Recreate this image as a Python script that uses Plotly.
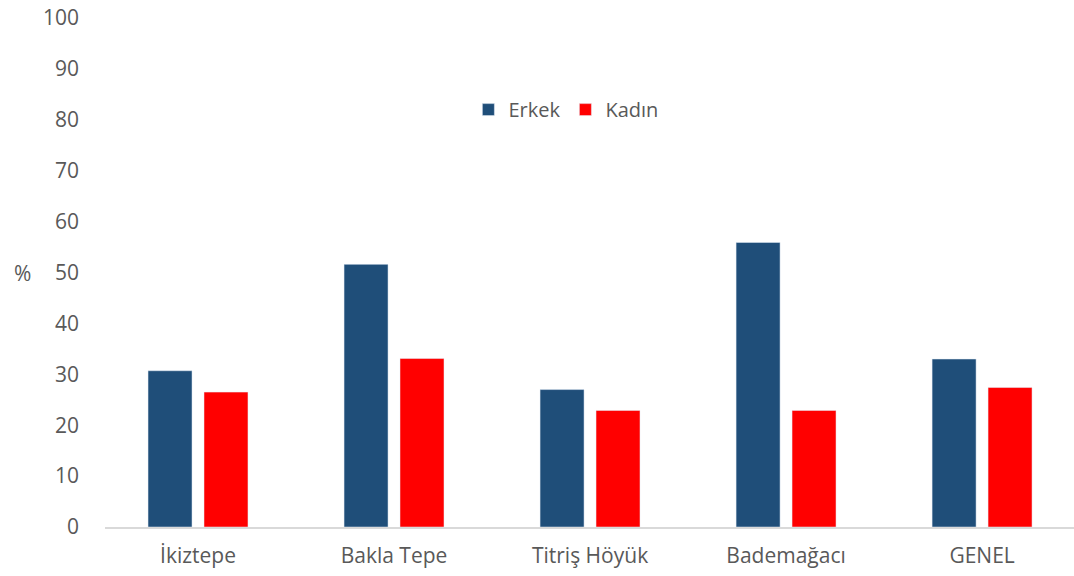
import plotly.graph_objects as go

sites = ["İkiztepe", "Bakla Tepe", "Titriş Höyük", "Bademağacı", "GENEL"]
erkek = [30.7, 51.6, 27.0, 55.9, 33.0]
kadin = [26.5, 33.1, 22.9, 22.9, 27.4]
y_ticks = [0, 10, 20, 30, 40, 50, 60, 70, 80, 90, 100]

FONT = "Open Sans"
GREY = "#595959"

fig = go.Figure()
fig.add_trace(go.Bar(x=sites, y=erkek, name="Erkek", marker_color="#1F4E79"))
fig.add_trace(go.Bar(x=sites, y=kadin, name="Kadın", marker_color="#FF0000"))

fig.update_layout(
    width=1074, height=576,
    margin=dict(l=105, r=0, t=18, b=49),
    plot_bgcolor="white", paper_bgcolor="white",
    barmode="group", bargap=0.429, bargroupgap=0.214,
    font=dict(family=FONT, size=21, color=GREY),
    legend=dict(orientation="h", x=0.375, xanchor="left", y=0.82, yanchor="middle",
                font=dict(size=20, color=GREY), itemwidth=30, traceorder="normal"),
    showlegend=True,
)
fig.update_xaxes(
    range=[-0.4745, 4.469], showgrid=False, showline=True, linecolor="#D9D9D9",
    linewidth=1.5, ticks="", ticklabelstandoff=9,
)
fig.update_yaxes(
    range=[0, 100], tickvals=y_ticks, showgrid=False, zeroline=False,
    showline=False, ticks="", ticklabelstandoff=25,
)
fig.add_annotation(text="%", xref="paper", yref="paper", x=-0.085, y=0.5,
                   xanchor="center", yanchor="middle", showarrow=False,
                   font=dict(family=FONT, size=21, color=GREY))

fig.write_html("out.html")
